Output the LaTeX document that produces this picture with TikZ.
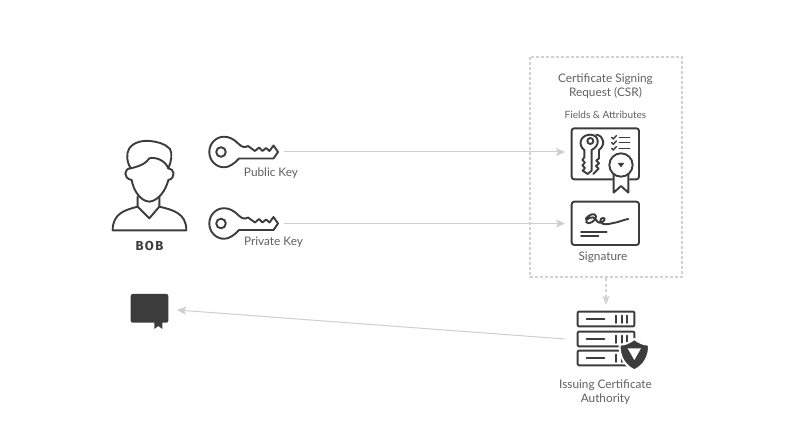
\documentclass[tikz,border=0pt]{standalone}
\usepackage{fontspec}
\setmainfont{Lato}
\newfontfamily\bobfont[LetterSpace=11]{Fira Sans}
\usetikzlibrary{arrows.meta}
\definecolor{ink}{HTML}{3C3C3C}
\definecolor{txt}{HTML}{606060}
\definecolor{conn}{HTML}{CFCFCF}
\definecolor{dashc}{HTML}{D2D2D2}
\tikzset{
  icon/.style={draw=ink,line width=1.9pt,line join=round,line cap=round},
  thinicon/.style={draw=ink,line width=1.9pt,line join=round,line cap=round},
  lab/.style={text=txt,font=\fontsize{11.8}{14}\selectfont,align=center,inner sep=0pt},
  smalllab/.style={text=txt,font=\fontsize{10}{11}\selectfont,align=center,inner sep=0pt},
  anchorpt/.style={inner sep=0pt,minimum size=0pt},
  conn/.style={draw=conn,line width=1pt,-{Stealth[length=9pt,width=8pt,inset=2pt]}},
  keyicon/.pic={
    \draw[icon] (18,-7.7) .. controls (13,-13) and (8,-15.3) .. (3,-15.3)
      .. controls (-5,-15.3) and (-11.7,-8.5) .. (-11.7,0)
      .. controls (-11.7,8.5) and (-5,15.3) .. (3,15.3)
      .. controls (8,15.3) and (13,12) .. (18,6.5)
      -- (52.5,6.5) -- (57,0) -- (52.5,-6.5) -- (48.5,-1) -- (45,-4) -- (41.5,-1) -- (38,-4.5) -- (34,-1) -- (27,-6) .. controls (24,-4) and (21,-5) .. (18,-7.7) -- cycle;
    \draw[icon] (0,0) circle (4.8);
  }
}
\begin{document}
\begin{tikzpicture}[x=1pt,y=-1pt]
\useasboundingbox[fill=white] (0,0) rectangle (800,446);

% Bob
\begin{scope}[shift={(100,125)},x=0.3333pt,y=-0.3333pt]
  \draw[icon] (92,130) .. controls (80,110) and (78,85) .. (88,70)
    .. controls (102,50) and (130,46) .. (150,48)
    .. controls (170,50) and (195,55) .. (210,72)
    .. controls (218,85) and (214,110) .. (205,130);
  \draw[icon] (92,130) .. controls (115,125) and (140,115) .. (148,100)
    .. controls (165,95) and (195,105) .. (205,130);
  \draw[icon] (92,130) .. controls (72,130) and (68,160) .. (95,165)
    .. controls (100,195) and (120,228) .. (148,230)
    .. controls (175,228) and (198,195) .. (205,165)
    .. controls (228,160) and (224,130) .. (205,130);
  \draw[icon] (113,215) -- (113,245) -- (148,280) -- (178,245) -- (178,215);
  \draw[icon] (113,245) .. controls (75,255) and (38,265) .. (38,316) -- (259,316)
    .. controls (259,265) and (220,255) .. (178,245);
\end{scope}
\node[anchorpt,font=\fontsize{13}{14}\selectfont\bobfont\bfseries,text=ink] (boblabel) at (149.5,246) {BOB};

% keys
\pic at (221,152) {keyicon};
\pic at (221,223.5) {keyicon};
\node[lab] (publabel) at (271,172.7) {Public Key};
\node[lab] (privlabel) at (273.5,242.7) {Private Key};
\coordinate (pubout) at (284,152);
\coordinate (privout) at (284,223.5);

% CSR box
\draw[draw=dashc,line width=2pt,dash pattern=on 3pt off 2pt] (530,57) rectangle (682,277);
\node[lab] (csrlabel) at (605.5,86) {Certificate Signing\\Request (CSR)};
\node[smalllab] (fields) at (605.5,115.3) {Fields \& Attributes};

% certificate icon
\coordinate (csrin) at (565,152);
\begin{scope}[shift={(525,50)},x=0.3333pt,y=-0.3333pt]
  \draw[icon,rounded corners=2.5pt] (262,388) -- (140,388) -- (140,235) -- (342,235) -- (342,388) -- (315,388);
  % back key
  \draw[thinicon] (214,254) .. controls (238,258) and (242,285) .. (222,300) -- (222,325) -- (214,332) -- (222,340) -- (213,348) -- (221,356) -- (205,372);
  % front key
  \draw[thinicon,fill=white] (195,254) .. controls (162,256) and (160,288) .. (178,300)
    -- (178,322) -- (172,330) -- (180,338) -- (172,346) -- (180,354) -- (173,362) -- (188,372)
    -- (200,362) -- (200,300) .. controls (226,288) and (224,254) .. (195,254) -- cycle;
  \draw[thinicon] (196,273) circle (9);
  % checklist
  \foreach \yy in {262,278,295}{
    \draw[thinicon,line width=1.4pt] (260,\yy) -- (265,\yy+5) -- (274,\yy-5);
    \draw[thinicon,line width=1.6pt] (283,\yy) -- (314,\yy);
  }
  % ribbon
  \draw[icon] (266,370) -- (266,428) -- (288,408) -- (310,428) -- (310,370);
  \draw[icon,fill=white] (288,345) circle (35);
  \fill[ink] (278,339) -- (298,339) -- (288,352) -- cycle;
\end{scope}

% signature icon
\coordinate (sigin) at (565,223.5);
\begin{scope}[shift={(525,195)},x=0.3333pt,y=-0.3333pt]
  \draw[icon,rounded corners=2.5pt] (140,20) rectangle (342,150);
  \draw[thinicon] (182,72) .. controls (190,58) and (212,52) .. (213,64)
    .. controls (214,78) and (190,90) .. (184,82)
    .. controls (178,72) and (205,60) .. (212,72)
    .. controls (216,84) and (228,88) .. (238,76)
    .. controls (244,66) and (225,66) .. (226,78)
    .. controls (228,92) and (250,88) .. (265,84)
    .. controls (280,82) and (296,74) .. (310,72);
  \draw[thinicon] (168,110) -- (245,110);
  \draw[thinicon] (168,122) -- (220,122);
\end{scope}
\node[lab] (siglabel) at (603,257.7) {Signature};

% connectors
\draw[conn] (pubout) -- (csrin);
\draw[conn] (privout) -- (sigin);
\coordinate (boxout) at (606,278);
\coordinate (caIn) at (606,305);
\draw[draw=dashc,line width=1.2pt,dash pattern=on 3pt off 2.5pt] (boxout) -- (606,297);
\fill[dashc] (caIn) -- (602.5,296) -- (606,297.5) -- (609.5,296) -- cycle;

% CA
\begin{scope}[shift={(545,300)},x=0.3333pt,y=-0.3333pt]
  \foreach \yy in {35,95,152}{
    \draw[thinicon,rounded corners=1pt] (98,\yy) rectangle (268,\yy+44);
    \draw[thinicon] (125,\yy+23) -- (178,\yy+23);
    \foreach \xx in {212,230,247}{\draw[thinicon] (\xx,\yy+12) -- (\xx,\yy+34);}
  }
  \draw[draw=white,line width=2pt,fill=ink,line join=round]
    (268,117) .. controls (250,130) and (238,134) .. (224,134)
    .. controls (222,170) and (240,198) .. (268,211)
    .. controls (296,198) and (314,170) .. (312,134)
    .. controls (298,134) and (286,130) .. (268,117) -- cycle;
  \fill[white] (248,145) -- (288,145) -- (268,180) -- cycle;
\end{scope}
\node[lab] (calabel) at (605.5,392.5) {Issuing Certificate\\Authority};

% issued certificate
\begin{scope}[shift={(120,285)},x=0.3333pt,y=-0.3333pt]
  \fill[ink,rounded corners=2pt] (32,27) rectangle (145,113);
  \fill[ink] (103,110) -- (103,132) -- (115,123) -- (127,132) -- (127,110) -- cycle;
\end{scope}
\coordinate (caout) at (565,339);
\coordinate (certin) at (177,310);
\draw[conn] (caout) -- (certin);
\end{tikzpicture}
\end{document}
